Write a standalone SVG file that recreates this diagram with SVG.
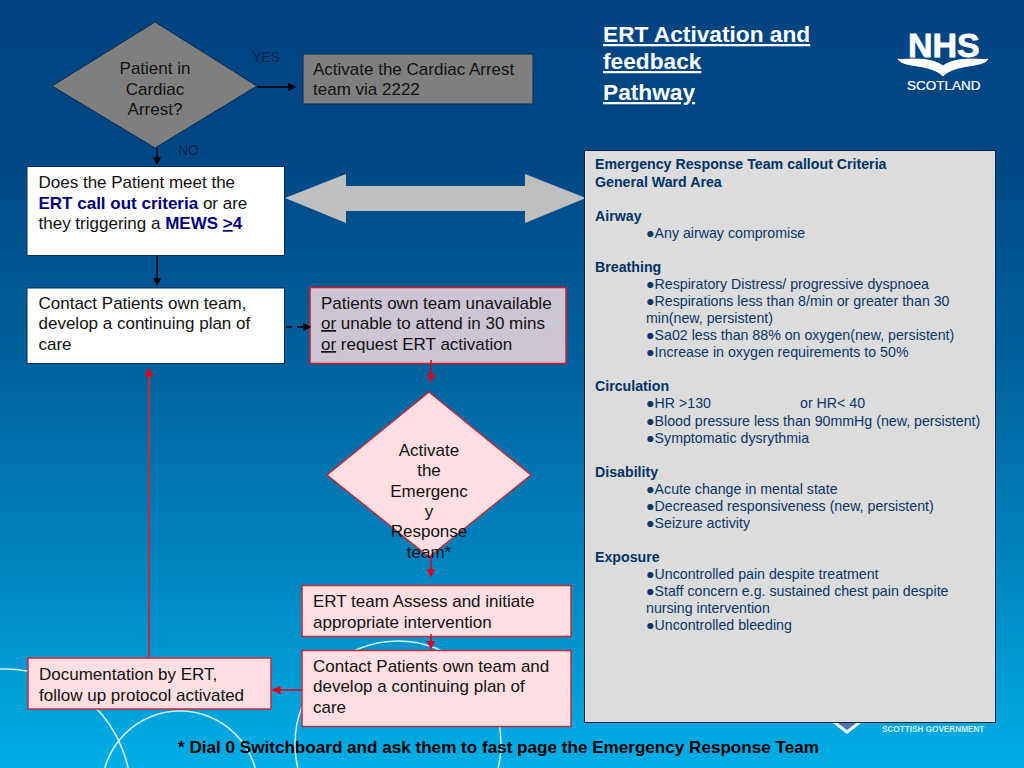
<svg xmlns="http://www.w3.org/2000/svg" width="1024" height="768" viewBox="0 0 1024 768">
<defs>
<linearGradient id="bg" x1="0" y1="0" x2="0" y2="1">
<stop offset="0" stop-color="#004481"/><stop offset="0.2" stop-color="#004785"/><stop offset="0.5" stop-color="#00659f"/><stop offset="0.75" stop-color="#0087c2"/><stop offset="1" stop-color="#00aee6"/>
</linearGradient>
<marker id="ab" markerWidth="8" markerHeight="8" refX="5" refY="3" orient="auto" markerUnits="userSpaceOnUse" viewBox="0 0 6 6"><path d="M0 0L6 3L0 6z" fill="#000"/></marker>
<marker id="ar" markerWidth="9" markerHeight="9" refX="5" refY="3" orient="auto" markerUnits="userSpaceOnUse" viewBox="0 0 6 6"><path d="M0 0L6 3L0 6z" fill="#e0001b"/></marker>
</defs>
<style>
text{font-family:"Liberation Sans",Arial,sans-serif;font-size:17px;fill:#111}
.g{fill:#7f7f7f;stroke:#0a2a50;stroke-width:1}
.w{fill:#fff;stroke:#0a2a50;stroke-width:1}
.p{fill:#ffdfe1;stroke:#c8283c;stroke-width:1.5}
.m{text-anchor:middle}
.b{font-weight:bold;fill:#000080}
.u{text-decoration:underline}
.k{stroke:#000;stroke-width:1.5;fill:none;marker-end:url(#ab)}
.r{stroke:#e0001b;stroke-width:1.5;fill:none;marker-end:url(#ar)}
.c text{font-size:14.2px;fill:#0a3668}
.c .h{font-weight:bold;fill:#003366}
.arc{fill:none;stroke:#d8f0fa;stroke-width:1.5}
.lab{font-size:14px;fill:#00234a}
.ttl{font-size:22.7px;font-weight:bold;fill:#fff}
</style>
<rect width="1024" height="768" fill="url(#bg)"/>
<g id="background-arcs">
<circle class="arc" cx="5" cy="795" r="126"/>
<circle class="arc" cx="180" cy="789" r="78"/>
<circle class="arc" cx="398" cy="744" r="103"/>
</g>
<g id="cardiac-decision"><polygon class="g" points="155,22 257,86 155,148 52,86"/>
<text class="m" x="155" y="74">Patient in</text><text class="m" x="155" y="95">Cardiac</text><text class="m" x="155" y="115">Arrest?</text></g>
<text class="lab" x="252" y="62">YES</text>
<text class="lab" x="178" y="155">NO</text>
<g id="activate-arrest"><rect class="g" x="303" y="54" width="230" height="50"/>
<text x="313" y="75">Activate the Cardiac Arrest</text><text x="313" y="95">team via 2222</text></g>
<g id="meet-criteria"><rect class="w" x="27" y="166.500" width="257.500" height="89"/>
<text x="38.500" y="188">Does the Patient meet the</text>
<text x="38.500" y="209"><tspan class="b">ERT call out criteria</tspan> or are</text>
<text x="38.500" y="229">they triggering a <tspan class="b">MEWS </tspan><tspan class="b u">&gt;</tspan><tspan class="b">4</tspan></text></g>
<g id="contact-team"><rect class="w" x="27" y="288" width="257.500" height="75.500"/>
<text x="38.500" y="309">Contact Patients own team,</text><text x="38.500" y="329">develop a continuing plan of</text><text x="38.500" y="350">care</text></g>
<g id="unavailable"><rect x="310" y="287.500" width="256" height="76" fill="#cdc5d3" stroke="#d4182e" stroke-width="1.5"/>
<text x="321" y="309">Patients own team unavailable</text>
<text x="321" y="329"><tspan class="u">or</tspan> unable to attend in 30 mins</text>
<text x="321" y="350"><tspan class="u">or</tspan> request ERT activation</text></g>
<g id="double-arrow"><polygon fill="#bfbfbf" points="285,198 346,174 346,186 525,186 525,174 586,198 525,223 525,211 346,211 346,223"/></g>
<g id="activate-ert"><polygon class="p" points="429,392 531,475 429,557 327,475"/>
<text class="m" x="429" y="455.500">Activate</text><text class="m" x="429" y="476">the</text><text class="m" x="429" y="496.500">Emergenc</text><text class="m" x="429" y="517">y</text><text class="m" x="429" y="537">Response</text><text class="m" x="429" y="558">team*</text></g>
<g id="ert-assess"><rect class="p" x="302" y="585.500" width="269" height="51"/>
<text x="313" y="607">ERT team Assess and initiate</text><text x="313" y="628">appropriate intervention</text></g>
<g id="contact-develop"><rect class="p" x="302" y="650.500" width="269" height="76"/>
<text x="313" y="671.500">Contact Patients own team and</text><text x="313" y="692">develop a continuing plan of</text><text x="313" y="713">care</text></g>
<g id="documentation"><rect class="p" x="28" y="658" width="243" height="51"/>
<text x="39" y="680">Documentation by ERT,</text><text x="39" y="700.500">follow up protocol activated</text></g>
<g id="connectors">
<path class="k" d="M257 87H295"/>
<path class="k" d="M157 148V164"/>
<path class="k" d="M157 256V285"/>
<path class="k" d="M286 327H310" stroke-dasharray="6 5"/>
<path class="r" d="M431 360V381"/>
<path class="r" d="M431 555V576"/>
<path class="r" d="M431 634V648"/>
<path class="r" d="M302 690H273"/>
<path class="r" d="M149 657V369" style="stroke:#c8283c;stroke-width:2"/>
</g>
<g id="title"><text class="u ttl" x="603" y="42">ERT Activation and</text><text class="u ttl" x="603" y="69">feedback</text><text class="u ttl" x="603" y="100">Pathway</text></g>
<g id="nhs-logo"><text x="908" y="57" style="font-size:34px;font-weight:bold;fill:#fff;stroke:#fff;stroke-width:0.8">NHS</text>
<path d="M898 59C903 68 930 63 943 76C956 63 983 68 988 59C984 61 958 55 943 66C928 55 902 61 898 59z" fill="#fff" stroke="#fff" stroke-width="1"/>
<text x="907" y="90" style="font-size:13.500px;fill:#fff;stroke:#fff;stroke-width:0.2">SCOTLAND</text></g>
<g id="sg-logo"><path d="M834 722L847 732L860 722z" fill="#4a70b8"/><path d="M834 722L847 732L860 722" fill="none" stroke="#eef8fc" stroke-width="3"/>
<text x="882" y="732" style="font-size:8.200px;font-weight:bold;fill:#d8f0fa">SCOTTISH GOVERNMENT</text></g>
<g id="criteria" class="c"><rect x="584.500" y="150.500" width="411" height="572" fill="#dcdcdc" stroke="#10253f" stroke-width="1"/>
<text class="h" x="595" y="169">Emergency Response Team callout Criteria</text>
<text class="h" x="595" y="186.500">General Ward Area</text>
<text class="h" x="595" y="220.500">Airway</text>
<text x="646" y="237.500">●Any airway compromise</text>
<text class="h" x="595" y="271.500">Breathing</text>
<text x="646" y="288.500">●Respiratory Distress/ progressive dyspnoea</text>
<text x="646" y="305.500">●Respirations less than 8/min or greater than 30</text>
<text x="646" y="322.500">min(new, persistent)</text>
<text x="646" y="340">●Sa02 less than 88% on oxygen(new, persistent)</text>
<text x="646" y="357">●Increase in oxygen requirements to 50%</text>
<text class="h" x="595" y="391">Circulation</text>
<text x="646" y="408">●HR &gt;130</text><text x="800" y="408">or HR&lt; 40</text>
<text x="646" y="425.500">●Blood pressure less than 90mmHg (new, persistent)</text>
<text x="646" y="442.500">●Symptomatic dysrythmia</text>
<text class="h" x="595" y="476.500">Disability</text>
<text x="646" y="493.500">●Acute change in mental state</text>
<text x="646" y="510.500">●Decreased responsiveness (new, persistent)</text>
<text x="646" y="527.500">●Seizure activity</text>
<text class="h" x="595" y="561.500">Exposure</text>
<text x="646" y="578.500">●Uncontrolled pain despite treatment</text>
<text x="646" y="595.500">●Staff concern e.g. sustained chest pain despite</text>
<text x="646" y="612.500">nursing intervention</text>
<text x="646" y="630">●Uncontrolled bleeding</text></g>
<text id="footnote" x="178" y="753" style="font-size:17.100px;font-weight:bold;fill:#000">* Dial 0 Switchboard and ask them to fast page the Emergency Response Team</text>
</svg>
